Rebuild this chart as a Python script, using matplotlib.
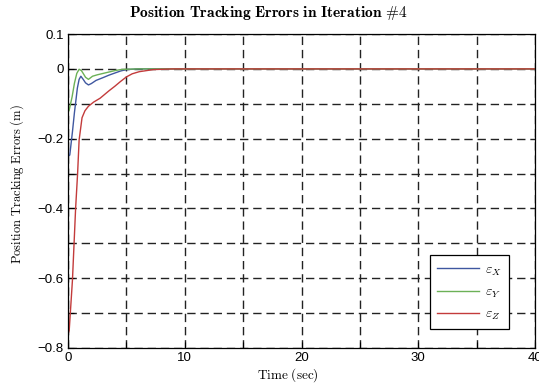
import matplotlib
matplotlib.use('Agg')
from matplotlib import pyplot as plt
import numpy as np

# values (time in sec, error in m)
t_x = [0, 0.15, 0.38, 0.55, 0.68, 0.8, 0.95, 1.1, 1.3, 1.5, 1.75, 2.0, 2.4, 3.0, 3.5, 4.0, 4.5, 5.0, 6.0, 8.0, 40]
err_x = [-0.25, -0.247, -0.18, -0.125, -0.089, -0.055, -0.03, -0.021, -0.03, -0.04, -0.046, -0.042, -0.033, -0.025, -0.018, -0.012, -0.006, -0.002, 0, 0, 0]

t_y = [0, 0.1, 0.35, 0.55, 0.75, 0.95, 1.15, 1.3, 1.5, 1.75, 2.1, 2.5, 3.0, 3.5, 4.0, 4.5, 5.0, 6.0, 40]
err_y = [-0.125, -0.118, -0.08, -0.041, -0.013, -0.001, -0.005, -0.013, -0.024, -0.03, -0.021, -0.017, -0.013, -0.009, -0.005, -0.002, -0.001, 0, 0]

t_z = [0, 0.1, 0.38, 0.65, 0.82, 0.95, 1.2, 1.45, 1.75, 2.2, 2.75, 3.0, 3.5, 4.0, 4.5, 5.0, 5.5, 6.1, 7.3, 9.0, 40]
err_z = [-0.76, -0.75, -0.605, -0.40, -0.30, -0.204, -0.14, -0.12, -0.107, -0.095, -0.084, -0.077, -0.063, -0.05, -0.036, -0.023, -0.014, -0.008, -0.002, 0, 0]

x_ticks = [0, 5, 10, 15, 20, 25, 30, 35, 40]
x_labels = ['0', '', '10', '', '20', '', '30', '', '40']
y_ticks = [-0.8, -0.7, -0.6, -0.5, -0.4, -0.3, -0.2, -0.1, 0, 0.1]
y_labels = ['\u22120.8', '', '\u22120.6', '', '\u22120.4', '', '\u22120.2', '', '0', '0.1']

plt.rcParams['mathtext.fontset'] = 'cm'

fig = plt.figure(figsize=(5.39, 3.83), dpi=100)
ax = fig.add_axes([0.1262, 0.0914, 0.8664, 0.8198])

ax.plot(t_x, err_x, color='#3f57a0', lw=1.0, label=r'$\varepsilon_X$')
ax.plot(t_y, err_y, color='#6cb157', lw=1.0, label=r'$\varepsilon_Y$')
ax.plot(t_z, err_z, color='#c33b3b', lw=1.0, label=r'$\varepsilon_Z$')

ax.set_xlim(0, 40)
ax.set_ylim(-0.8, 0.1)
ax.set_xticks(x_ticks)
ax.set_xticklabels(x_labels)
ax.set_yticks(y_ticks)
ax.set_yticklabels(y_labels)
ax.tick_params(direction='in', length=4, width=0.8, labelsize=9.5, pad=3)
for lab in ax.get_xticklabels() + ax.get_yticklabels():
    lab.set_family('Liberation Sans')

ax.grid(True, color='#222222', linestyle=(0, (6, 3.5)), linewidth=1.0)
for s in ax.spines.values():
    s.set_linewidth(0.9)

fig.text(0.497, 0.966, r'$\mathbf{Position\ Tracking\ Errors\ in\ Iteration\ \#4}$',
         ha='center', va='center', fontsize=11.2)
ax.set_xlabel(r'$\mathrm{Time\ (sec)}$', fontsize=9.5)
ax.xaxis.set_label_coords(0.471, -0.058)
ax.set_ylabel(r'$\mathrm{Position\ Tracking\ Errors\ (m)}$', fontsize=9)
ax.yaxis.set_label_coords(-0.09, 0.522)

leg = ax.legend(loc='lower right', bbox_to_anchor=(0.944, 0.06), fancybox=False,
                edgecolor='black', framealpha=1, fontsize=10, handlelength=3.0,
                borderpad=0.5, labelspacing=0.5, handletextpad=0.45,
                borderaxespad=0)
leg.get_frame().set_linewidth(0.9)

fig.savefig('out.png', dpi=100)
